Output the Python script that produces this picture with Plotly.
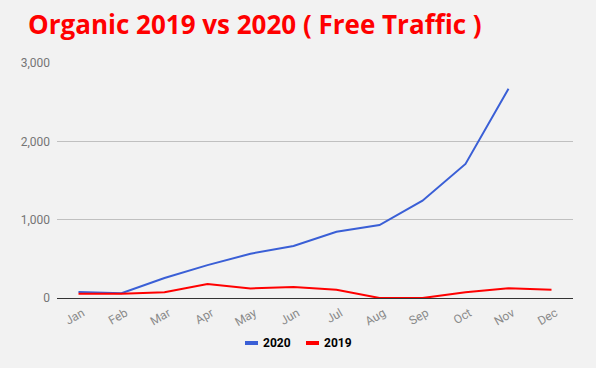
import plotly.graph_objects as go

months = ["Jan", "Feb", "Mar", "Apr", "May", "Jun", "Jul", "Aug", "Sep", "Oct", "Nov", "Dec"]
traffic_2020 = [77, 62, 255, 420, 565, 665, 845, 931, 1242, 1712, 2672, None]
traffic_2019 = [55, 55, 73, 180, 122, 140, 106, 0, 0, 72, 123, 106]
series_names = ["2020", "2019"]
series_colors = ["#3a5fd6", "#ff0000"]
y_ticks = [0, 1000, 2000, 3000]
y_tick_labels = ["0", "1,000", "2,000", "3,000"]

L, R, T, B, W, H = 57, 23, 63, 70, 596, 368
PW, PH = W - L - R, H - T - B

def px_x(p):
    return (p - L) / PW

def px_y(p):
    return (H - B - p) / PH

fig = go.Figure()
for name, vals, col in zip(series_names, [traffic_2020, traffic_2019], series_colors):
    fig.add_trace(go.Scatter(x=months, y=vals, name=name, mode="lines",
                             line=dict(color=col, width=2), showlegend=False))

# custom compact legend
leg_y = 343
for name, col, x0 in zip(series_names, series_colors, [245, 306]):
    fig.add_shape(type="line", xref="paper", yref="paper",
                  x0=px_x(x0), x1=px_x(x0 + 13), y0=px_y(leg_y), y1=px_y(leg_y),
                  line=dict(color=col, width=4))
    fig.add_annotation(xref="paper", yref="paper", x=px_x(x0 + 16), y=px_y(leg_y),
                       xanchor="left", yanchor="middle", showarrow=False, text=f"<b>{name}</b>",
                       font=dict(family="Roboto", size=12, color="#000000"))

fig.update_layout(
    width=W, height=H,
    paper_bgcolor="#f2f2f2", plot_bgcolor="#f2f2f2",
    margin=dict(l=L, r=R, t=T, b=B),
    title=dict(text="<b>Organic 2019 vs 2020 ( Free Traffic )</b>",
               font=dict(family="Open Sans", size=26, color="#ff0000"),
               x=28/W, xanchor="left", y=1-25/H, yanchor="middle"),
    font=dict(family="Roboto", size=12, color="#757575"),
    xaxis=dict(tickangle=-30, showgrid=False, showline=False, ticks="",
               range=[-0.5, 11.5], ticklabelstandoff=5, ticklabelshift=4,
               tickfont=dict(color="#8a8a8a", size=12)),
    yaxis=dict(range=[0, 3000], tickvals=y_ticks, ticktext=y_tick_labels,
               gridcolor="#c0c0c0", gridwidth=1, zeroline=True, zerolinecolor="#333333",
               zerolinewidth=1, ticks="", tickfont=dict(color="#757575", size=12),
               ticklabelstandoff=6),
)
fig.write_html("out.html", config={"displayModeBar": False},
               post_script="document.body.style.margin='0';document.body.style.background='#f2f2f2';")
